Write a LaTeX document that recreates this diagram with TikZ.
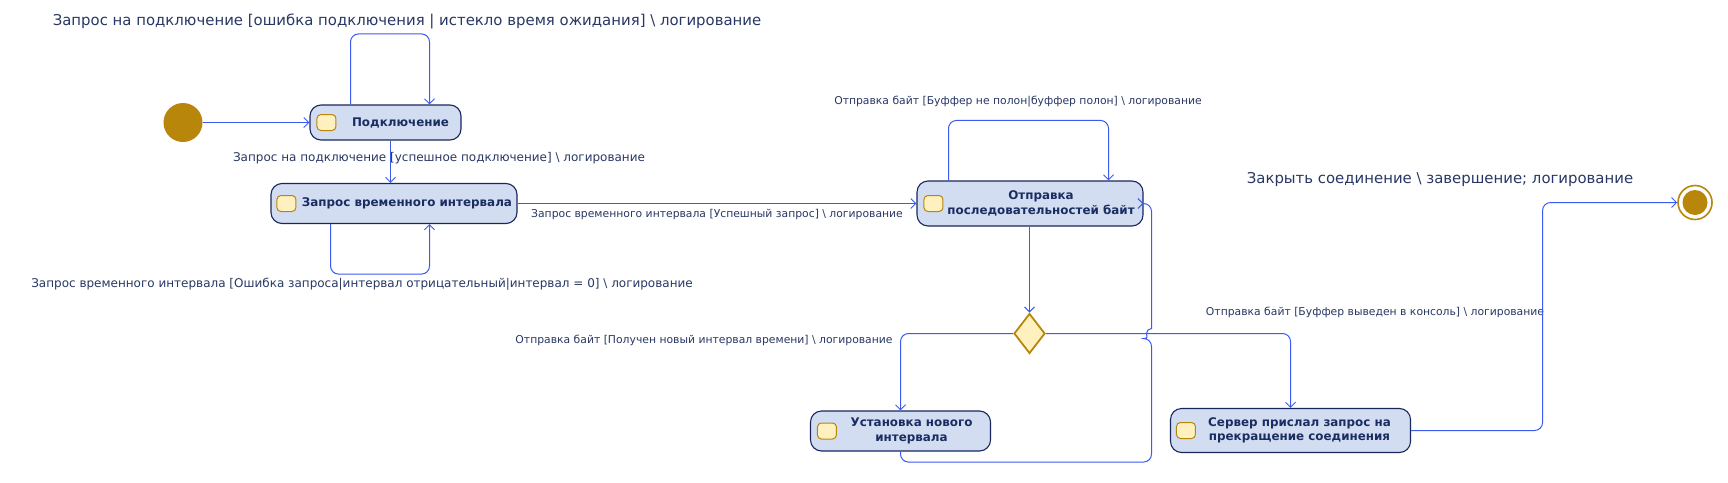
\documentclass[tikz,border=0pt]{standalone}
\usepackage{fontspec}
\setmainfont{DejaVu Sans}
\usepackage{tikz}
\usetikzlibrary{shapes.geometric, arrows.meta, positioning}
\definecolor{stfill}{RGB}{211,221,241}
\definecolor{stline}{RGB}{24,39,94}
\definecolor{sttext}{RGB}{26,45,99}
\definecolor{lbltext}{RGB}{40,55,100}
\definecolor{arrcol}{RGB}{60,90,240}
\definecolor{gold}{RGB}{184,134,11}
\definecolor{iconfill}{RGB}{255,240,192}
\tikzstyle{state} = [rectangle, rounded corners=11pt, draw=stline, fill=stfill, line width=1.1pt, inner sep=0pt]
\tikzstyle{stext} = [text=sttext, font=\bfseries\fontsize{11.9}{14.5}\selectfont, align=center, inner sep=0pt]
\tikzstyle{icon} = [rectangle, rounded corners=4pt, draw=gold, fill=iconfill, line width=1pt, minimum width=19pt, minimum height=16pt, inner sep=0pt]
\tikzstyle{startnode} = [circle, fill=gold, minimum size=39pt, inner sep=0pt]
\tikzstyle{endnode} = [circle, draw=gold, line width=1.6pt, fill=white, minimum size=34pt, inner sep=0pt]
\tikzstyle{endcore} = [circle, fill=gold, minimum size=25pt, inner sep=0pt]
\tikzstyle{decision} = [diamond, draw=gold, fill=iconfill, line width=1.8pt, aspect=0.78, minimum width=31pt, minimum height=40pt, inner sep=0pt]
\tikzstyle{biglbl} = [text=lbltext, font=\fontsize{14.9}{17}\selectfont, inner sep=0pt]
\tikzstyle{midlbl} = [text=lbltext, font=\fontsize{12}{14}\selectfont, inner sep=0pt]
\tikzstyle{smalllbl} = [text=lbltext, font=\fontsize{10.8}{12}\selectfont, inner sep=0pt]
\tikzstyle{line} = [draw=arrcol, line width=1pt, rounded corners=8pt, -{Straight Barb[length=5pt,width=10pt]}]

\begin{document}
\begin{tikzpicture}[x=1pt, y=-1pt]
	\useasboundingbox (0,0) rectangle (1728,482);

	\node [startnode] (init) at (183,122.5) {};
	\node [state, minimum width=151pt, minimum height=35pt] (conn) at (385.5,122.5) {};
	\node [icon, right=7pt of conn.west] (connI) {};
	\node [stext] (connT) at ([xshift=15pt]conn.center) {Подключение};

	\node [state, minimum width=246pt, minimum height=40pt] (req) at (394,203.5) {};
	\node [icon, right=6pt of req.west] (reqI) {};
	\node [stext] (reqT) at ([xshift=13pt]req.center) {Запрос временного интервала};

	\node [state, minimum width=226pt, minimum height=45pt] (send) at (1030,203.5) {};
	\node [icon, right=7pt of send.west] (sendI) {};
	\node [stext] (sendT) at ([xshift=11pt]send.center) {Отправка\\последовательностей байт};

	\node [decision] (dec) at (1029.5,333.5) {};

	\node [state, minimum width=180pt, minimum height=40pt] (ust) at (900.5,431) {};
	\node [icon, right=7pt of ust.west] (ustI) {};
	\node [stext] (ustT) at ([xshift=11pt]ust.center) {Установка нового\\интервала};

	\node [state, minimum width=240pt, minimum height=44pt] (srv) at (1290.5,430.5) {};
	\node [icon, right=6pt of srv.west] (srvI) {};
	\node [stext] (srvT) at ([xshift=9pt]srv.center) {Сервер прислал запрос на\\прекращение соединения};

	\node [endnode] (fin) at (1695,202.5) {};
	\node [endcore] (finC) at (fin) {};

	\node [biglbl] (lblConnFail) at (407,21) {Запрос на подключение [ошибка подключения | истекло время ожидания] \textbackslash{} логирование};
	\node [midlbl] (lblConnOk) at (439,158.5) {Запрос на подключение [успешное подключение] \textbackslash{} логирование};
	\node [midlbl] (lblReqFail) at (362,284.5) {Запрос временного интервала [Ошибка запроса|интервал отрицательный|интервал = 0] \textbackslash{} логирование};
	\node [smalllbl] (lblReqOk) at (717,214.5) {Запрос временного интервала [Успешный запрос] \textbackslash{} логирование};
	\node [smalllbl] (lblBufLoop) at (1018,102) {Отправка байт [Буффер не полон|буффер полон] \textbackslash{} логирование};
	\node [smalllbl] (lblNewInt) at (704,340) {Отправка байт [Получен новый интервал времени] \textbackslash{} логирование};
	\node [smalllbl] (lblBufOut) at (1375,312) {Отправка байт [Буффер выведен в консоль] \textbackslash{} логирование};
	\node [biglbl] (lblClose) at (1440,180) {Закрыть соединение \textbackslash{} завершение; логирование};

	\path [line] (init) -- (conn);
	\path [line] ([xshift=-35pt]conn.north) -- ++(0,-70.5) -| ([xshift=44pt]conn.north);
	\path [line] ([xshift=5pt]conn.south) -- ([xshift=5pt]conn.south |- req.north);
	\path [line] ([xshift=-63.5pt]req.south) -- ++(0,50) -| ([xshift=35.5pt]req.south);
	\path [line] (req.east) -- (req.east -| send.west);
	\path [line] ([xshift=-81.5pt]send.north) -- ++(0,-60) -| ([xshift=78.5pt]send.north);
	\path [line] (dec.north |- send.south) -- (dec);
	\path [line] (dec.west) -| (ust.north);
	\path [line] (dec.east) -| (srv.north);
	\path [line] (ust.south) -- ++(0,10.5) -| (1151.5,338.5) [sharp corners] arc[start angle=270, end angle=90, radius=5pt] [rounded corners=8pt] |- (send.east);
	\path [line] (srv.east) -- ++(131.5,0) |- (fin);
\end{tikzpicture}
\end{document}
